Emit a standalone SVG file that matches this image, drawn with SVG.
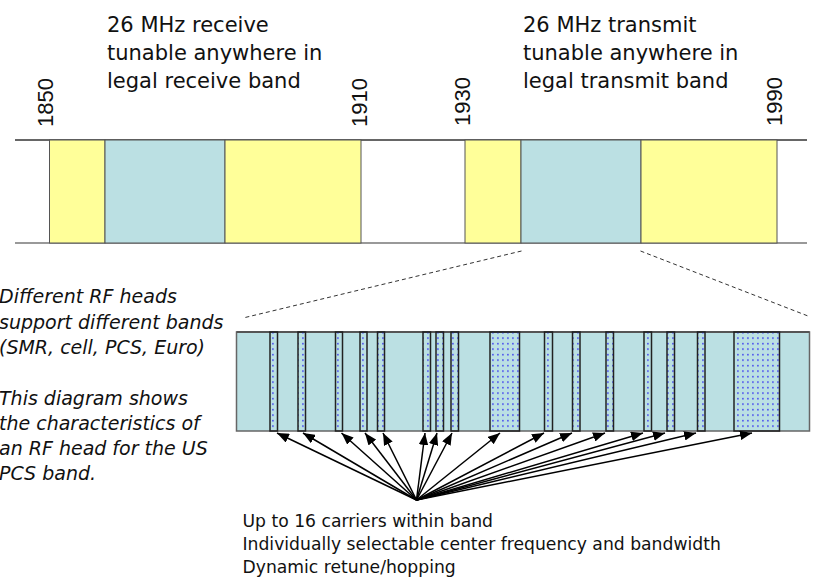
<svg xmlns="http://www.w3.org/2000/svg" width="814" height="583" viewBox="0 0 814 583">
  <defs>
    <style>
      .lbl { font-family: "DejaVu Sans", "Liberation Sans", sans-serif; font-size: 21px; fill: #111; }
      .num { font-family: "Liberation Sans", Arial, sans-serif; font-size: 22px; fill: #111; }
      .note { font-family: "DejaVu Sans", "Liberation Sans", sans-serif; font-size: 19px; font-style: italic; fill: #111; }
      .foot { font-family: "DejaVu Sans", "Liberation Sans", sans-serif; font-size: 17.2px; fill: #111; }
      .yel { fill: #FFFF99; stroke: #555; stroke-width: 1; }
      .blu { fill: #BBE0E3; stroke: #555; stroke-width: 1; }
      .car { fill: url(#dots); stroke: #222; stroke-width: 1.5; }
      .arr { stroke: #000; stroke-width: 1.5; fill: none; marker-end: url(#ah); }
      .dash { stroke: #333; stroke-width: 1; stroke-dasharray: 4 3; fill: none; }
    </style>
    <pattern id="dots" x="0" y="0" width="5" height="5.5" patternUnits="userSpaceOnUse">
      <rect x="2" y="2" width="1.8" height="1.3" fill="#3c3cf0"/>
    </pattern>
    <marker id="ah" viewBox="0 0 10 8" refX="10" refY="4" markerWidth="12" markerHeight="9.6" markerUnits="userSpaceOnUse" orient="auto">
      <path d="M0,0 L10,4 L0,8 z" fill="#000"/>
    </marker>
  </defs>
  <rect width="814" height="583" fill="#fff"/>

  <g id="spectrum">
    <line x1="15" y1="140" x2="807" y2="140" stroke="#333" stroke-width="1.5"/>
    <line x1="15" y1="243" x2="807" y2="243" stroke="#777" stroke-width="1.5"/>
    <g id="rx-band">
      <rect class="yel" x="49.5" y="140" width="55.5" height="103"/>
      <rect class="blu" x="105" y="140" width="120" height="103"/>
      <rect class="yel" x="225" y="140" width="136" height="103"/>
    </g>
    <g id="tx-band">
      <rect class="yel" x="465" y="140" width="56" height="103"/>
      <rect class="blu" x="521" y="140" width="120" height="103"/>
      <rect class="yel" x="641" y="140" width="136" height="103"/>
    </g>
    <text class="num" transform="translate(53,127) rotate(-90)">1850</text>
    <text class="num" transform="translate(367,127) rotate(-90)">1910</text>
    <text class="num" transform="translate(470,126) rotate(-90)">1930</text>
    <text class="num" transform="translate(782,126) rotate(-90)">1990</text>
  </g>

  <g id="rx-label">
    <text class="lbl" x="107" y="31.7">26 MHz receive</text>
    <text class="lbl" x="107" y="59.7">tunable anywhere in</text>
    <text class="lbl" x="107" y="87.5">legal receive band</text>
  </g>
  <g id="tx-label">
    <text class="lbl" x="523" y="31.7">26 MHz transmit</text>
    <text class="lbl" x="523" y="59.7">tunable anywhere in</text>
    <text class="lbl" x="523" y="87.5">legal transmit band</text>
  </g>

  <g id="zoom-lines">
    <line class="dash" x1="521.5" y1="251" x2="243" y2="318"/>
    <line class="dash" x1="640.5" y1="251" x2="808" y2="316"/>
  </g>

  <g id="rf-band">
    <rect x="236.5" y="332" width="573" height="99" fill="#BBE0E3" stroke="#666" stroke-width="1.5"/>
    <line x1="236.5" y1="332" x2="809.5" y2="332" stroke="#555" stroke-width="2"/>
    <g id="carriers">
      <rect class="car" x="270" y="332" width="7.5" height="99"/>
      <rect class="car" x="298" y="332" width="7.5" height="99"/>
      <rect class="car" x="335.5" y="332" width="7" height="99"/>
      <rect class="car" x="360" y="332" width="7" height="99"/>
      <rect class="car" x="377.5" y="332" width="7" height="99"/>
      <rect class="car" x="423" y="332" width="7.5" height="99"/>
      <rect class="car" x="436" y="332" width="7.5" height="99"/>
      <rect class="car" x="451" y="332" width="7.5" height="99"/>
      <rect class="car" x="490" y="332" width="29.5" height="99"/>
      <rect class="car" x="544.5" y="332" width="8" height="99"/>
      <rect class="car" x="572.5" y="332" width="7.5" height="99"/>
      <rect class="car" x="606" y="332" width="7.5" height="99"/>
      <rect class="car" x="644" y="332" width="7.5" height="99"/>
      <rect class="car" x="667" y="332" width="7.5" height="99"/>
      <rect class="car" x="697.5" y="332" width="7.5" height="99"/>
      <rect class="car" x="734" y="332" width="45.5" height="99"/>
    </g>
  </g>

  <g id="connectors">
    <line class="arr" x1="416.5" y1="500" x2="277" y2="433"/>
    <line class="arr" x1="416.5" y1="500" x2="303" y2="433"/>
    <line class="arr" x1="416.5" y1="500" x2="341.5" y2="433"/>
    <line class="arr" x1="416.5" y1="500" x2="365" y2="433"/>
    <line class="arr" x1="416.5" y1="500" x2="383" y2="433"/>
    <line class="arr" x1="416.5" y1="500" x2="425" y2="433"/>
    <line class="arr" x1="416.5" y1="500" x2="437" y2="433"/>
    <line class="arr" x1="416.5" y1="500" x2="452" y2="433"/>
    <line class="arr" x1="416.5" y1="500" x2="500" y2="433"/>
    <line class="arr" x1="416.5" y1="500" x2="544" y2="433"/>
    <line class="arr" x1="416.5" y1="500" x2="572" y2="433"/>
    <line class="arr" x1="416.5" y1="500" x2="605" y2="433"/>
    <line class="arr" x1="416.5" y1="500" x2="643" y2="433"/>
    <line class="arr" x1="416.5" y1="500" x2="665" y2="433"/>
    <line class="arr" x1="416.5" y1="500" x2="696" y2="433"/>
    <line class="arr" x1="416.5" y1="500" x2="752" y2="433"/>
  </g>

  <g id="side-note">
    <text class="note" x="-1" y="303">Different RF heads</text>
    <text class="note" x="-1" y="328.5">support different bands</text>
    <text class="note" x="-1" y="354">(SMR, cell, PCS, Euro)</text>
    <text class="note" x="-1" y="404.5">This diagram shows</text>
    <text class="note" x="-1" y="430">the characteristics of</text>
    <text class="note" x="-1" y="455">an RF head for the US</text>
    <text class="note" x="-1" y="480">PCS band.</text>
  </g>

  <g id="caption">
    <text class="foot" x="242.5" y="527">Up to 16 carriers within band</text>
    <text class="foot" x="242.5" y="550">Individually selectable center frequency and bandwidth</text>
    <text class="foot" x="242.5" y="572.5">Dynamic retune/hopping</text>
  </g>
</svg>
